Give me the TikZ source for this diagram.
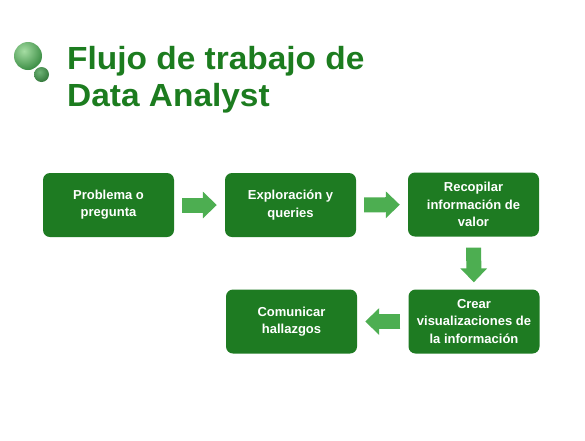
\documentclass[tikz,border=0pt]{standalone}
\usepackage{fontspec}
\setmainfont{Liberation Sans}
\usetikzlibrary{arrows.meta}
\definecolor{boxgreen}{HTML}{1E7B22}
\definecolor{titlegreen}{HTML}{1C7C1F}
\definecolor{arrowgreen}{HTML}{4DAE51}
\definecolor{ballhi}{HTML}{A5DDA3}
\definecolor{balllo}{HTML}{3E9A48}
\tikzset{
  stepbox/.style={draw=none, fill=boxgreen, rounded corners=7pt,
    minimum width=131pt, minimum height=64pt, text=white,
    font=\bfseries\fontsize{13}{17.2}\selectfont, align=center, inner sep=0pt},
  bigarrow/.style={draw=arrowgreen, line width=15pt,
    -{Triangle[width=26pt,length=14pt]}, shorten >=8pt, shorten <=8pt},
  titletext/.style={text=titlegreen, font=\bfseries\fontsize{32}{37.5}\selectfont,
    anchor=base west, inner sep=0pt, xscale=1.045}
}
\begin{document}
\begin{tikzpicture}[x=1pt,y=-1pt]
\useasboundingbox[fill=white] (0,0) rectangle (585,440);
% decorative balls
\begin{scope}
\clip (28,56) circle (14);
\shade[inner color=ballhi, outer color=balllo!90!black] (24,51) circle (20);
\end{scope}
\begin{scope}
\clip (41.5,74.5) circle (7.5);
\shade[inner color=balllo!75!white, outer color=balllo!75!black] (39.5,72) circle (11);
\end{scope}
% title
\node[titletext] (t1) at (67,69) {Flujo de trabajo de};
\node[titletext] (t2) at (67,106.5) {Data Analyst};
% boxes
\node[stepbox] (b1) at (108.5,205) {Problema o\\pregunta};
\node[stepbox] (b2) at (290.5,205) {Exploración y\\queries};
\node[stepbox] (b3) at (473.5,204.5) {Recopilar\\información de\\valor};
\node[stepbox] (b5) at (474,321.5) {Crear\\visualizaciones de\\la información};
\node[stepbox] (b4) at (291.5,321.5) {Comunicar\\hallazgos};
% arrows
\draw[bigarrow] (b1) -- (b2);
\draw[bigarrow] (b2) -- (b3);
\draw[bigarrow, shorten <=11pt, shorten >=7pt] (b3) -- (b5);
\draw[bigarrow] (b5) -- (b4);
\end{tikzpicture}
\end{document}
